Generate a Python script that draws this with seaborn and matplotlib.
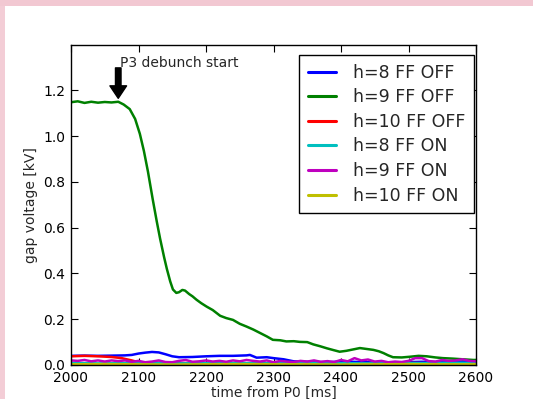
import matplotlib
matplotlib.use("Agg")
import matplotlib.pyplot as plt
import seaborn as sns
import pandas as pd
from matplotlib.patches import Rectangle

# ---- data ----
labels = ["h=8 FF OFF", "h=9 FF OFF", "h=10 FF OFF", "h=8 FF ON", "h=9 FF ON", "h=10 FF ON"]
colors = ["#0000ff", "#008000", "#ff0000", "#00bfbf", "#bf00bf", "#bfbf00"]

t_h9_off = [2000, 2010, 2020, 2030, 2040, 2050, 2060, 2070, 2078, 2087, 2095, 2102, 2108, 2114,
            2121, 2127, 2132, 2138, 2142, 2147, 2151, 2156, 2160, 2165, 2169, 2175, 2180, 2186,
            2193, 2201, 2210, 2221, 2230, 2240, 2250, 2260, 2270, 2280, 2290, 2299, 2310, 2319,
            2330, 2339, 2350, 2359, 2369, 2379, 2389, 2398, 2408, 2418, 2428, 2438, 2448, 2456,
            2463, 2470, 2477, 2490, 2502, 2515, 2527, 2540, 2551, 2565, 2580, 2596, 2600]
v_h9_off = [1.148, 1.152, 1.145, 1.150, 1.146, 1.149, 1.147, 1.150, 1.138, 1.118, 1.075, 1.010,
            0.935, 0.845, 0.725, 0.628, 0.552, 0.470, 0.420, 0.365, 0.330, 0.315, 0.318, 0.328,
            0.325, 0.310, 0.300, 0.285, 0.270, 0.255, 0.240, 0.215, 0.205, 0.197, 0.180, 0.168,
            0.155, 0.140, 0.125, 0.110, 0.108, 0.103, 0.104, 0.101, 0.100, 0.090, 0.082, 0.073,
            0.065, 0.058, 0.062, 0.068, 0.074, 0.070, 0.066, 0.060, 0.052, 0.042, 0.034, 0.033,
            0.036, 0.040, 0.038, 0.033, 0.030, 0.028, 0.025, 0.022, 0.022]

t_h8_off = [2000, 2020, 2040, 2060, 2080, 2090, 2100, 2110, 2120, 2130, 2140, 2150, 2160, 2180,
            2200, 2220, 2240, 2260, 2265, 2275, 2290, 2300, 2315, 2330, 2350, 2380, 2400, 2430,
            2460, 2490, 2520, 2550, 2580, 2600]
v_h8_off = [0.040, 0.041, 0.040, 0.041, 0.042, 0.044, 0.050, 0.054, 0.057, 0.055, 0.047, 0.038,
            0.034, 0.035, 0.038, 0.040, 0.040, 0.042, 0.044, 0.032, 0.034, 0.030, 0.025, 0.016,
            0.014, 0.012, 0.015, 0.013, 0.010, 0.012, 0.014, 0.012, 0.015, 0.013]

t_h10_off = [2000, 2020, 2040, 2060, 2075, 2090, 2100, 2120, 2160, 2200, 2250, 2300, 2350, 2400,
             2450, 2500, 2550, 2600]
v_h10_off = [0.038, 0.040, 0.038, 0.035, 0.030, 0.020, 0.012, 0.010, 0.008, 0.009, 0.007, 0.008,
             0.009, 0.007, 0.008, 0.009, 0.007, 0.008]

t_h8_on = [2000, 2040, 2080, 2120, 2160, 2200, 2240, 2280, 2320, 2360, 2400, 2440, 2480, 2520,
           2560, 2600]
v_h8_on = [0.009, 0.007, 0.008, 0.010, 0.007, 0.008, 0.009, 0.007, 0.008, 0.010, 0.008, 0.007,
           0.009, 0.008, 0.010, 0.009]

t_h9_on = [2000, 2010, 2020, 2030, 2040, 2050, 2060, 2070, 2080, 2090, 2100, 2110, 2120, 2130,
           2140, 2150, 2160, 2170, 2180, 2190, 2200, 2210, 2220, 2230, 2240, 2250, 2260, 2270,
           2280, 2290, 2300, 2310, 2320, 2330, 2340, 2350, 2360, 2370, 2380, 2390, 2400, 2410,
           2420, 2430, 2440, 2450, 2460, 2470, 2480, 2490, 2500, 2510, 2520, 2530, 2540, 2550,
           2560, 2570, 2580, 2590, 2600]
v_h9_on = [0.020, 0.018, 0.022, 0.016, 0.020, 0.015, 0.020, 0.017, 0.020, 0.014, 0.018, 0.012,
           0.015, 0.020, 0.013, 0.012, 0.018, 0.022, 0.014, 0.016, 0.020, 0.015, 0.018, 0.014,
           0.020, 0.016, 0.022, 0.018, 0.015, 0.020, 0.012, 0.018, 0.015, 0.013, 0.018, 0.015,
           0.020, 0.014, 0.017, 0.013, 0.022, 0.016, 0.030, 0.020, 0.024, 0.015, 0.018, 0.012,
           0.015, 0.013, 0.018, 0.030, 0.030, 0.017, 0.015, 0.022, 0.018, 0.020, 0.025, 0.018,
           0.016]

t_h10_on = [2000, 2050, 2100, 2150, 2200, 2250, 2300, 2350, 2400, 2450, 2500, 2550, 2600]
v_h10_on = [0.003, 0.004, 0.003, 0.002, 0.003, 0.004, 0.003, 0.003, 0.002, 0.003, 0.004, 0.003,
            0.003]

xticks = [2000, 2100, 2200, 2300, 2400, 2500, 2600]
yticks = [0.0, 0.2, 0.4, 0.6, 0.8, 1.0, 1.2]

series_t = [t_h8_off, t_h9_off, t_h10_off, t_h8_on, t_h9_on, t_h10_on]
series_v = [v_h8_off, v_h9_off, v_h10_off, v_h8_on, v_h9_on, v_h10_on]
rows = []
for lab, ts, vs in zip(labels, series_t, series_v):
    for t, v in zip(ts, vs):
        rows.append({"t": t, "v": v, "series": lab})
df = pd.DataFrame(rows)

# ---- plot ----
sns.set_style("ticks")
plt.rcParams["font.family"] = ["DejaVu Sans"]

fig = plt.figure(figsize=(5.33, 3.99), dpi=100)
fig.patch.set_facecolor("white")
ax = fig.add_axes([71 / 533, 34 / 399, 405 / 533, 320 / 399])

sns.lineplot(data=df, x="t", y="v", hue="series", hue_order=labels,
             palette=dict(zip(labels, colors)), estimator=None, sort=True,
             linewidth=1.8, ax=ax)

ax.set_xlim(2000, 2600)
ax.set_ylim(0, 1.398)
ax.set_xticks(xticks)
ax.set_yticks(yticks)
ax.set_xticklabels([str(x) for x in xticks])
ax.set_yticklabels([f"{y:.1f}" for y in yticks])
ax.tick_params(direction="in", length=5, width=0.8, top=True, right=True,
               labelsize=10, colors="black", pad=4)
for s in ax.spines.values():
    s.set_visible(True)
    s.set_color("black")
    s.set_linewidth(1.0)
ax.set_xlabel("time from P0 [ms]", fontsize=10, labelpad=1)
ax.set_ylabel("gap voltage [kV]", fontsize=10, labelpad=4)

ax.annotate("", xy=(2070, 1.165), xytext=(2070, 1.298),
            arrowprops=dict(facecolor="black", edgecolor="black", width=4.0,
                            headwidth=12, headlength=9, shrink=0))
ax.text(2073, 1.304, "P3 debunch start", fontsize=10, va="baseline", ha="left")

leg = ax.legend(loc="upper right", bbox_to_anchor=(474 / 533, 1 - 55 / 399),
                bbox_transform=fig.transFigure, borderaxespad=0, fontsize=12.5,
                frameon=True, fancybox=False, framealpha=1, edgecolor="black",
                handlelength=1.6, handletextpad=1.0, labelspacing=0.38, borderpad=0.5)
leg.get_frame().set_linewidth(1.0)
for h in leg.get_lines():
    h.set_linewidth(2.2)

fig.patches.append(Rectangle((0, 0), 5 / 533, 1, transform=fig.transFigure,
                             facecolor="#f3cdd6", edgecolor="none", zorder=-1))
fig.patches.append(Rectangle((0, 1 - 6 / 399), 1, 6 / 399, transform=fig.transFigure,
                             facecolor="#f2c8d2", edgecolor="none", zorder=-1))

fig.savefig("out.png", dpi=100, facecolor="white")
